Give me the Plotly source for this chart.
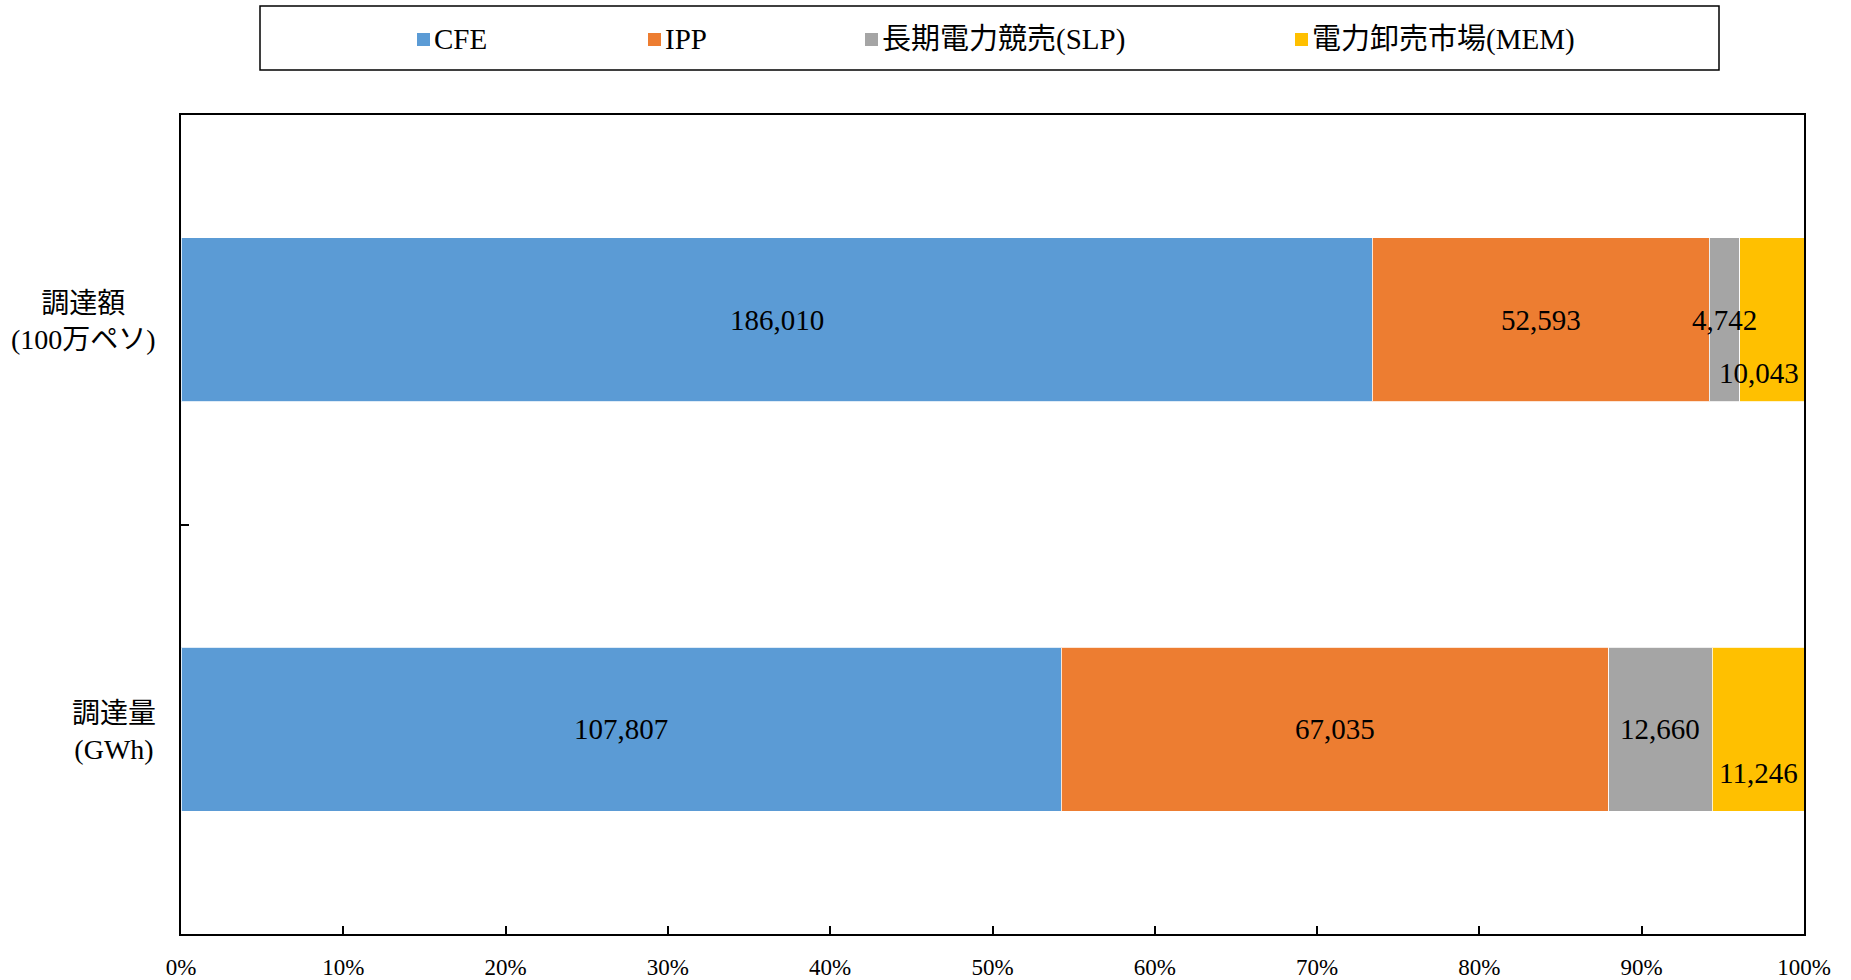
import plotly.graph_objects as go

# ---- data ----
categories = ["調達額", "調達量"]
category_labels = ["調達額<br>(100万ペソ)", "調達量<br>(GWh)"]
series_names = ["CFE", "IPP", "長期電力競売(SLP)", "電力卸売市場(MEM)"]
series_colors = ["#5B9BD5", "#ED7D31", "#A5A5A5", "#FFC000"]
cfe_values = [186010, 107807]
ipp_values = [52593, 67035]
slp_values = [4742, 12660]
mem_values = [10043, 11246]
x_ticks = [0, 10, 20, 30, 40, 50, 60, 70, 80, 90, 100]

series_values = [cfe_values, ipp_values, slp_values, mem_values]
totals = [sum(v[i] for v in series_values) for i in range(len(categories))]

# ---- layout geometry (pixels) ----
W, H = 1851, 980
L, R, T, B = 181, 47, 115, 46
PW, PH = W - L - R, H - T - B


def px(x):
    return (x - L) / PW


def py(y):
    return (H - B - y) / PH


FONT = "Liberation Serif, 'Noto Sans CJK JP', serif"

fig = go.Figure()
for name, color, vals in zip(series_names, series_colors, series_values):
    pct = [v / t * 100 for v, t in zip(vals, totals)]
    fig.add_trace(go.Bar(
        y=categories, x=pct, name=name, orientation="h",
        marker=dict(color=color, line=dict(color="rgba(255,255,255,0.8)", width=1)),
        width=0.4, showlegend=False,
    ))

annotations = []
# data labels (offsets for labels that the reference moved to avoid overlaps)
label_shift = {(3, 0): (-13, -53), (3, 1): (0, -44)}
for ci, cat in enumerate(categories):
    cum = 0.0
    for si, vals in enumerate(series_values):
        p = vals[ci] / totals[ci] * 100
        xs, ys = label_shift.get((si, ci), (0, 0))
        annotations.append(dict(
            x=cum + p / 2, y=cat, xref="x", yref="y",
            text=f"{vals[ci]:,}", showarrow=False,
            xshift=xs, yshift=ys,
            font=dict(family=FONT, size=29, color="#000000"),
        ))
        cum += p

# category labels (centered multi-line, right edge near axis)
for cat, lab in zip(categories, category_labels):
    annotations.append(dict(
        x=px(158), y=cat, xref="paper", yref="y", xanchor="right",
        yanchor="middle", align="center", text=lab, showarrow=False,
        yshift=-2,
        font=dict(family=FONT, size=28, color="#000000"),
    ))

# legend (box, swatches, texts)
shapes = [dict(type="rect", xref="paper", yref="paper",
               x0=px(260), x1=px(1719), y0=py(70), y1=py(6),
               line=dict(color="#000000", width=1.5), fillcolor="white", layer="above")]
marker_x = [417, 648, 865, 1295]
for mx, name, color in zip(marker_x, series_names, series_colors):
    shapes.append(dict(type="rect", xref="paper", yref="paper",
                       x0=px(mx), x1=px(mx + 13), y0=py(46), y1=py(33),
                       line=dict(width=0), fillcolor=color, layer="above"))
    annotations.append(dict(
        x=px(mx + 15), y=py(39), xref="paper", yref="paper",
        xanchor="left", yanchor="middle", text=name, showarrow=False,
        font=dict(family=FONT, size=29, color="#000000"),
    ))

fig.update_layout(
    width=W, height=H,
    margin=dict(l=L, r=R, t=T, b=B, pad=0, autoexpand=False),
    barmode="stack",
    plot_bgcolor="white", paper_bgcolor="white",
    font=dict(family=FONT, color="#000000"),
    annotations=annotations, shapes=shapes,
    showlegend=False,
    xaxis=dict(
        range=[0, 100], tickmode="array", tickvals=x_ticks,
        ticktext=[f"{t}%" for t in x_ticks],
        ticks="inside", ticklen=8, tickwidth=1.5, tickcolor="#000000",
        showline=True, linecolor="#000000", linewidth=2, mirror=True,
        showgrid=False, zeroline=False, automargin=False,
        tickfont=dict(family=FONT, size=23, color="#000000"),
        ticklabelstandoff=11,
    ),
    yaxis=dict(
        type="category", categoryorder="array", categoryarray=categories,
        range=[1.5, -0.5], automargin=False,
        ticks="inside", ticklen=8, tickwidth=1.5, tickcolor="#000000",
        tickson="boundaries", showticklabels=False,
        showline=True, linecolor="#000000", linewidth=2, mirror=True,
        showgrid=False, zeroline=False,
    ),
)

fig.write_html(
    "out.html",
    config={"displayModeBar": False},
    post_script="document.body.style.margin='0px';document.body.style.overflow='hidden';",
)
